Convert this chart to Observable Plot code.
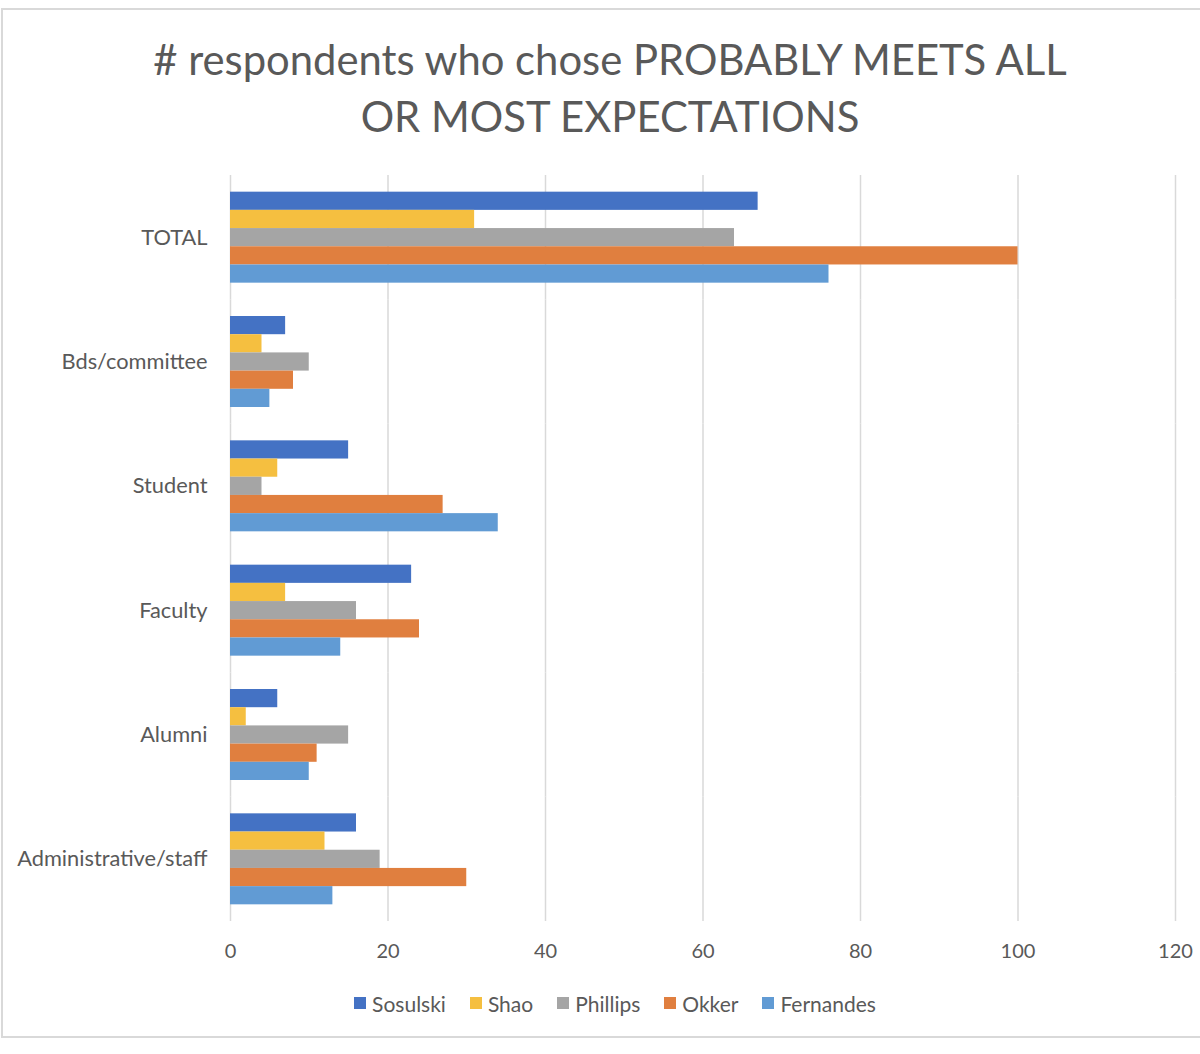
<!DOCTYPE html>
<html>
<head>
<meta charset="utf-8">
<script src="https://cdn.jsdelivr.net/npm/d3@7"></script>
<script src="https://cdn.jsdelivr.net/npm/@observablehq/plot@0.6"></script>
<style>
  html, body { margin: 0; padding: 0; background: #fff; overflow: hidden; }
  #wrap { position: relative; width: 1200px; height: 1054px; font-family: Lato, "Open Sans", sans-serif; color: #595959; }
  #border { position: absolute; left: 1px; top: 8px; width: 1230px; height: 1030px; border: 2px solid #d9d9d9; box-sizing: border-box; }
  #title { position: relative; height: 160px; box-sizing: border-box; padding-top: 31px; padding-left: 20px; text-align: center; font-size: 41.8px; line-height: 57px; }
  #legend { display: flex; justify-content: center; align-items: center; gap: 24px; font-size: 21px; height: 46px; margin-left: 30px; }
  #legend .item { display: flex; align-items: center; gap: 6px; }
  #legend .sw { width: 12px; height: 12px; display: inline-block; }
  #chart svg { display: block; }
  #chart svg [aria-label^="fy-axis"] text, #chart svg [aria-label^="fy-axis"] { font-size: 21.8px; }
</style>
</head>
<body>
<div id="wrap">
  <div id="border"></div>
  <div id="title"># respondents who chose PROBABLY MEETS ALL<br>OR MOST EXPECTATIONS</div>
  <div id="chart"></div>
  <div id="legend"></div>
</div>
<script>
const categories = ["TOTAL", "Bds/committee", "Student", "Faculty", "Alumni", "Administrative/staff"];
const series = ["Sosulski", "Shao", "Phillips", "Okker", "Fernandes"];
const sosulski  = [67, 7, 15, 23, 6, 16];
const shao      = [31, 4, 6, 7, 2, 12];
const phillips  = [64, 10, 4, 16, 15, 19];
const okker     = [100, 8, 27, 24, 11, 30];
const fernandes = [76, 5, 34, 14, 10, 13];
const xTicks = [0, 20, 40, 60, 80, 100, 120];
const colors = ["#4472C4", "#F5BF40", "#A5A5A5", "#E07F3F", "#619BD4"];

const valuesBySeries = [sosulski, shao, phillips, okker, fernandes];
const rows = [];
categories.forEach((c, i) => {
  series.forEach((s, j) => rows.push({category: c, series: s, value: valuesBySeries[j][i]}));
});

const chart = Plot.plot({
  width: 1200,
  height: 820,
  marginTop: 15,
  marginBottom: 59,
  marginLeft: 230,
  marginRight: 25,
  style: {fontFamily: "Lato, 'Open Sans', sans-serif", fontSize: "20px", color: "#595959", background: "white", overflow: "visible"},
  x: {domain: [0, 120], ticks: xTicks, tickSize: 0, tickPadding: 22, label: null},
  y: {domain: series, axis: null, paddingInner: 0, paddingOuter: 0.916, round: false},
  fy: {domain: categories, padding: 0, tickSize: 0, tickPadding: 23, label: null, round: false},
  color: {domain: series, range: colors},
  marks: [
    Plot.ruleX(xTicks, {stroke: "#d9d9d9", strokeWidth: 1.5}),
    Plot.barX(rows, {x: "value", y: "series", fy: "category", fill: "series"})
  ]
});
document.getElementById("chart").appendChild(chart);

const legend = document.getElementById("legend");
series.forEach((s, j) => {
  const item = document.createElement("div");
  item.className = "item";
  const sw = document.createElement("span");
  sw.className = "sw";
  sw.style.background = colors[j];
  const t = document.createElement("span");
  t.textContent = s;
  item.appendChild(sw);
  item.appendChild(t);
  legend.appendChild(item);
});
</script>
</body>
</html>
